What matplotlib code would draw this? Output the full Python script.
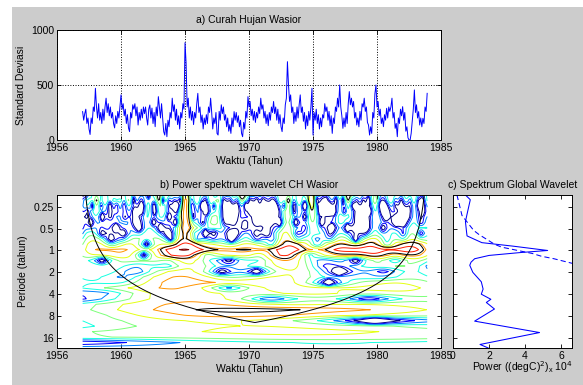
import numpy as np
import matplotlib
matplotlib.use("Agg")
import matplotlib.pyplot as plt
from matplotlib.patches import Rectangle

plt.rcParams["font.family"] = ["Liberation Sans", "DejaVu Sans"]
plt.rcParams["font.size"] = 7.5

# monthly rainfall, Jan 1957 .. Dec 1983
rain_1957_1965 = [
    258, 180, 240, 280, 150, 200, 100, 50, 200, 150, 300, 260,
    470, 300, 200, 330, 180, 250, 150, 280, 180, 300, 380, 250,
    330, 220, 300, 200, 250, 150, 110, 220, 150, 260, 200, 300,
    410, 280, 330, 220, 280, 150, 230, 110, 76, 250, 200, 320,
    280, 330, 220, 300, 136, 250, 180, 280, 200, 300, 240, 300,
    200, 136, 280, 318, 200, 290, 150, 250, 121, 300, 220, 394,
    300, 200, 330, 200, 76, 45, 150, 30, 180, 120, 250, 200,
    380, 260, 320, 180, 280, 140, 220, 100, 250, 200, 330, 280,
    885, 700, 300, 380, 200, 300, 180, 260, 140, 250, 200, 330,
]
rain_1966_1974 = [
    424, 250, 300, 160, 227, 100, 200, 140, 230, 150, 300, 250,
    380, 250, 100, 200, 150, 250, 60, 45, 260, 180, 320, 240,
    300, 180, 230, 120, 200, 80, 140, 60, 200, 120, 258, 180,
    250, 160, 220, 120, 180, 60, 30, 160, 100, 260, 200, 394,
    300, 350, 220, 280, 180, 260, 160, 250, 200, 300, 240, 380,
    280, 320, 200, 260, 150, 230, 130, 250, 180, 300, 250, 350,
    240, 300, 180, 280, 150, 230, 121, 76, 200, 150, 320, 380,
    712, 500, 350, 410, 250, 300, 150, 250, 170, 300, 200, 320,
    410, 250, 300, 170, 250, 100, 220, 130, 260, 180, 300, 470,
]
rain_1975_1983 = [
    45, 250, 180, 280, 150, 230, 100, 200, 120, 230, 200, 330,
    260, 300, 180, 260, 130, 220, 60, 200, 150, 300, 260, 380,
    300, 500, 300, 220, 106, 200, 120, 250, 150, 330, 440, 320,
    380, 300, 350, 200, 250, 136, 200, 120, 260, 180, 330, 300,
    380, 260, 300, 160, 136, 45, 120, 60, 250, 200, 420, 500,
    300, 350, 220, 280, 150, 200, 121, 230, 180, 288, 200, 300,
    260, 300, 380, 200, 250, 106, 150, 30, 200, 150, 280, 220,
    303, 180, 250, 80, 120, 20, 0, 0, 60, 167, 280, 455,
    250, 320, 200, 258, 136, 200, 120, 197, 150, 300, 260, 424,
]
start_year = 1957

# global wavelet spectrum (panel c), power in units of 1e4
gws_period = [0.172, 0.2, 0.3, 0.4, 0.55, 0.63, 0.78, 0.87, 1.0, 1.07, 1.17,
              1.3, 1.45, 1.6, 2.0, 2.7, 3.4, 4.0, 4.7, 5.2, 6.4, 9.4, 13.5,
              19.7, 22.0]
gws_power = [0.69, 0.96, 0.8, 0.69, 0.75, 0.78, 1.6, 3.3, 5.25, 3.7, 2.0,
             1.2, 1.0, 0.93, 1.1, 1.57, 1.67, 1.57, 2.1, 1.85, 2.3, 1.2, 4.8,
             1.5, 1.95]
sig_period = [0.172, 0.33, 0.53, 0.6, 0.82, 0.9, 1.1, 1.2, 1.3, 1.5, 1.6]
sig_power = [0.22, 0.5, 1.15, 1.43, 2.3, 2.7, 4.4, 4.9, 5.6, 6.6, 7.2]

year_ticks = [1955, 1960, 1965, 1970, 1975, 1980, 1985]
year_labels = ["1956", "1960", "1965", "1970", "1975", "1980", "1985"]
period_ticks = [0.25, 0.5, 1, 2, 4, 8, 16]
period_labels = ["0.25", "0.5", "1", "2", "4", "8", "16"]
levels = [0.0625, 0.125, 0.25, 0.5, 1, 2, 4, 8, 16]


def morlet_power(x, dt, s0, dj, jtot, k0=6.0):
    n = len(x)
    xa = x - x.mean()
    npad = int(2 ** np.ceil(np.log2(n)))
    f = np.fft.fft(np.concatenate([xa, np.zeros(npad - n)]))
    k = 2 * np.pi * np.fft.fftfreq(npad, dt)
    scales = s0 * 2 ** (dj * np.arange(jtot + 1))
    pw = np.empty((len(scales), n))
    for i, s in enumerate(scales):
        expnt = -((s * k - k0) ** 2) / 2 * (k > 0)
        norm = np.sqrt(s * 2 * np.pi / (npad * dt)) * np.pi ** -0.25 * np.sqrt(npad)
        daughter = norm * np.exp(expnt) * (k > 0)
        w = np.fft.ifft(f * daughter)[:n]
        pw[i] = np.abs(w) ** 2
    ff = 4 * np.pi / (k0 + np.sqrt(2 + k0 ** 2))
    return pw, ff * scales, ff


rain = np.array(rain_1957_1965 + rain_1966_1974 + rain_1975_1983, float)
n = len(rain)
dt = 1 / 12
time = start_year + np.arange(n) * dt
power, period, ff = morlet_power(rain, dt, 2 * dt, 0.25, 28)
variance = rain.var()

# red-noise 95% significance
a1 = np.corrcoef(rain[:-1], rain[1:])[0, 1]
theor = (1 - a1 ** 2) / (1 + a1 ** 2 - 2 * a1 * np.cos(2 * np.pi * dt / period))
sig95 = power / (variance * theor * 5.9915 / 2)[:, None]

# cone of influence
half = np.concatenate([np.arange(1, (n + 1) // 2), np.arange(1, n // 2)[::-1]])
coi = ff / np.sqrt(2) * dt * np.concatenate([[1e-5], half, [1e-5]])
coi = coi[:n] if len(coi) >= n else np.pad(coi, (0, n - len(coi)), constant_values=1e-5)

fig = plt.figure(figsize=(5.83, 3.85), dpi=100, facecolor="white")
fig.add_artist(Rectangle((12 / 583, 0), 1, 1 - 7 / 385, transform=fig.transFigure,
                         facecolor="#cccccc", edgecolor="none", zorder=-5))

ax1 = fig.add_axes([0.0978, 0.6364, 0.6587, 0.2857])
ax2 = fig.add_axes([0.0978, 0.0961, 0.6587, 0.3974])
ax3 = fig.add_axes([0.7770, 0.0961, 0.2041, 0.3974])

for ax in (ax1, ax2, ax3):
    ax.tick_params(direction="in", top=True, right=True, length=3, width=0.6, pad=2)
    for sp in ax.spines.values():
        sp.set_linewidth(0.7)

# a) time series
ax1.plot(time, rain, color="blue", lw=0.7)
ax1.set_xlim(1955, 1985)
ax1.set_ylim(0, 1000)
ax1.set_xticks(year_ticks)
ax1.set_xticklabels(year_labels)
ax1.set_yticks([0, 500, 1000])
ax1.grid(True, color="black", linestyle=":", linewidth=0.7)
ax1.set_title("a) Curah Hujan Wasior", fontsize=7.5, pad=5)
ax1.set_xlabel("Waktu (Tahun)", labelpad=2)
ax1.set_ylabel("Standard Deviasi", labelpad=4)

# b) wavelet power spectrum
lp = np.log2(period)
ax2.contour(time, lp, np.log2(power / variance), levels=np.log2(levels),
            cmap="jet", linewidths=0.7)
ax2.contour(time, lp, sig95, levels=[1], colors="black", linewidths=0.7)
ax2.plot(time, np.log2(coi), color="black", lw=0.7)
ax2.set_xlim(1955, 1985)
ax2.set_ylim(lp[-1], lp[0])
ax2.set_xticks(year_ticks)
ax2.set_xticklabels(year_labels)
ax2.set_yticks(np.log2(period_ticks))
ax2.set_yticklabels(period_labels)
ax2.set_title("b) Power spektrum wavelet CH Wasior", fontsize=7.5, pad=5)
ax2.set_xlabel("Waktu (Tahun)", labelpad=2)
ax2.set_ylabel("Periode (tahun)", labelpad=4)

# c) global wavelet spectrum
ax3.plot(gws_power, np.log2(gws_period), color="blue", lw=0.75)
ax3.plot(sig_power, np.log2(sig_period), color="blue", lw=0.75, linestyle="--",
         dashes=(5, 3))
ax3.set_xlim(0, 6.6)
ax3.set_ylim(lp[-1], lp[0])
ax3.set_xticks([0, 2, 4, 6])
ax3.set_yticks(np.log2(period_ticks))
ax3.set_yticklabels([])
ax3.set_title("c) Spektrum Global Wavelet", fontsize=7.5, pad=5)
ax3.set_xlabel("Power ((degC)$^2$)$_{\\mathregular{x}}$ 10$^4$", labelpad=2)
ax3.xaxis.set_label_coords(0.58, -0.075)

fig.savefig("out.png", dpi=100, facecolor=fig.get_facecolor())
